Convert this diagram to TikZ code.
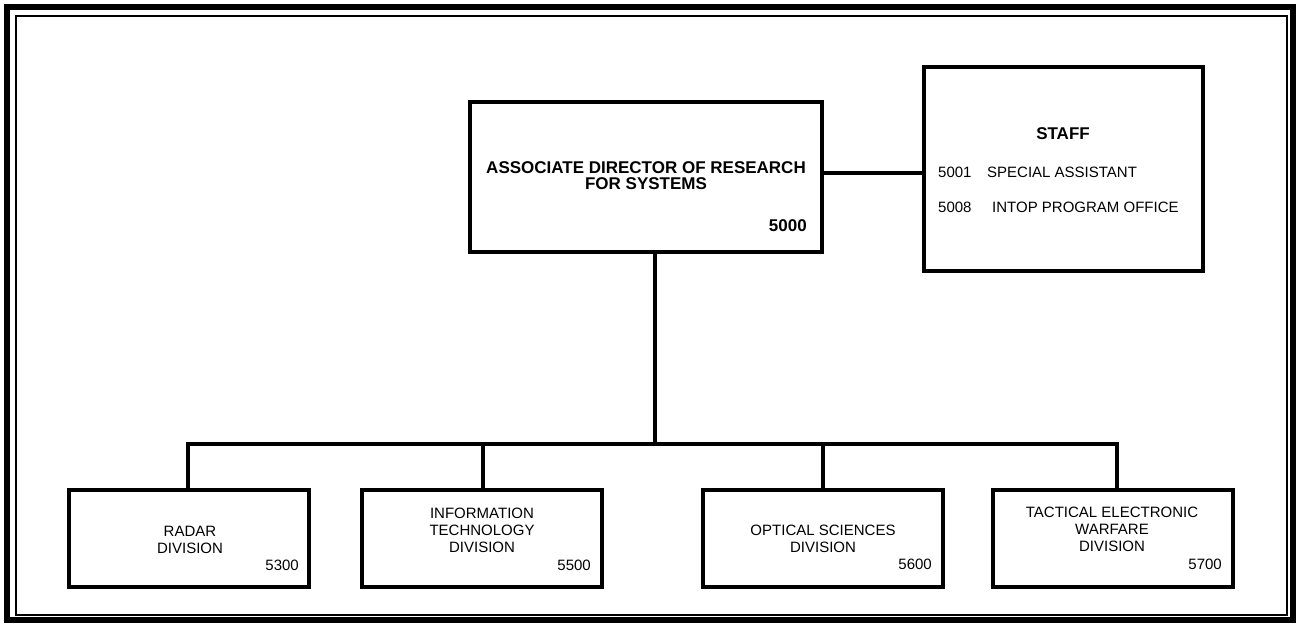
\documentclass[tikz,border=0pt]{standalone}
\usepackage{fontspec}
\setmainfont{Liberation Sans}
\begin{document}
\begin{tikzpicture}[x=1pt,y=-1pt,
  orgbox/.style={draw=black,line width=3.5pt,minimum width=240pt,minimum height=97pt,inner sep=0pt},
  lbl/.style={inner sep=0pt,align=center,font=\fontsize{15}{17}\selectfont},
  num/.style={inner sep=0pt,anchor=east,font=\fontsize{15}{17}\selectfont},
  bold/.style={inner sep=0pt,align=center,font=\fontsize{17}{16}\selectfont\bfseries},
  link/.style={draw=black,line width=3.5pt}]
\useasboundingbox (0,0) rectangle (1297,625);
% frame
\draw[line width=6pt] (7,7) rectangle (1292.5,620.3);
\draw[line width=2.5pt] (16,16) rectangle (1287,615);
% top boxes
\node[orgbox,minimum width=352pt,minimum height=150pt] (main) at (646,177) {};
\node[bold] (maint) at (646,176) {ASSOCIATE DIRECTOR OF RESEARCH\\FOR SYSTEMS};
\node[bold,anchor=east] (mainn) at (807,225.5) {5000};
\node[orgbox,minimum width=279pt,minimum height=204pt] (staff) at (1063.5,169) {};
\node[bold] (stafft) at (1063,134) {STAFF};
\node[num,anchor=west] (s1n) at (938,172) {5001};
\node[num,anchor=west] (s1t) at (987,172) {SPECIAL ASSISTANT};
\node[num,anchor=west] (s2n) at (938,207) {5008};
\node[num,anchor=west] (s2t) at (992,207) {INTOP PROGRAM OFFICE};
% divisions
\node[orgbox] (radar) at (189,538.5) {};
\node[lbl] (radart) at (190,539.5) {RADAR\\DIVISION};
\node[num] (radarn) at (299,565) {5300};
\node[orgbox] (it) at (482,538.5) {};
\node[lbl] (itt) at (482,530.5) {INFORMATION\\TECHNOLOGY\\DIVISION};
\node[num] (itn) at (591,565) {5500};
\node[orgbox] (opt) at (823,538.5) {};
\node[lbl] (optt) at (823,538.5) {OPTICAL SCIENCES\\DIVISION};
\node[num] (optn) at (932,564) {5600};
\node[orgbox] (tew) at (1113,538.5) {};
\node[lbl] (tewt) at (1112,529.5) {TACTICAL ELECTRONIC\\WARFARE\\DIVISION};
\node[num] (tewn) at (1222,564) {5700};
% connectors
\coordinate (bus) at (655,444);
\draw[link] (bus |- main.south) -- (bus);
\draw[link] ([yshift=4pt]main.east) -- ([yshift=4pt]main.east -| staff.west);
\draw[link] ([xshift=-1pt]radar.north) -- ([xshift=-1pt]radar.north |- bus) -- ([xshift=4pt]tew.north |- bus) -- ([xshift=4pt]tew.north);
\draw[link] ([xshift=1pt]it.north) -- ([xshift=1pt]it.north |- bus);
\draw[link] (opt.north) -- (opt.north |- bus);
\end{tikzpicture}
\end{document}
